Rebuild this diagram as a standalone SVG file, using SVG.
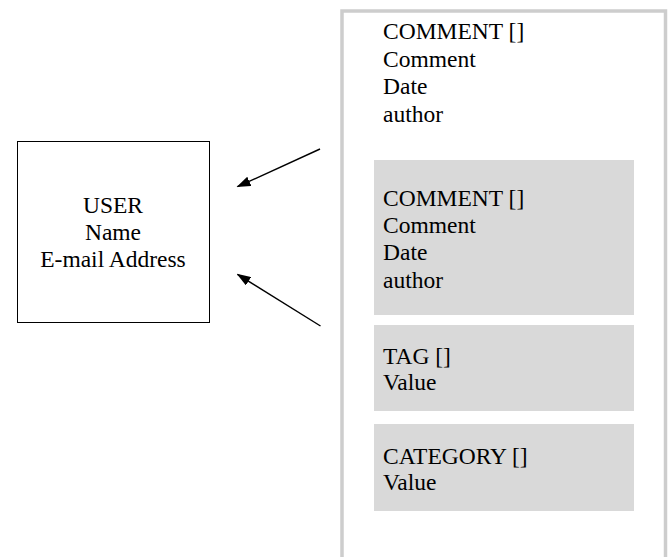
<svg xmlns="http://www.w3.org/2000/svg" width="672" height="557" viewBox="0 0 672 557">
<style>
.t{font-family:"Liberation Serif","Times New Roman",serif;font-size:23.5px;fill:#000}
.panel{fill:#d9d9d9}
.conn{stroke:#000;stroke-width:1.4;fill:none}
</style>
<defs>
<marker id="ah" markerWidth="14" markerHeight="10" refX="13" refY="5" orient="auto" markerUnits="userSpaceOnUse">
<path d="M0,0 L14,5 L0,10 Z" fill="#000"/>
</marker>
</defs>
<rect width="672" height="557" fill="#fff"/>
<g id="user">
<rect x="17.5" y="141.5" width="192" height="181" fill="#fff" stroke="#000" stroke-width="1"/>
<text class="t" text-anchor="middle" x="113" y="213">USER</text>
<text class="t" text-anchor="middle" x="113" y="240">Name</text>
<text class="t" text-anchor="middle" x="113" y="267">E-mail Address</text>
</g>
<g id="container">
<path d="M342,570 V11 H665.5 V570" fill="none" stroke="#cdcdcd" stroke-width="3.5"/>
</g>
<g id="comment1">
<text class="t" x="383" y="39">COMMENT []</text>
<text class="t" x="383" y="67">Comment</text>
<text class="t" x="383" y="94">Date</text>
<text class="t" x="383" y="122">author</text>
</g>
<g id="comment2">
<rect class="panel" x="374" y="160" width="260" height="155"/>
<text class="t" x="383" y="206">COMMENT []</text>
<text class="t" x="383" y="233">Comment</text>
<text class="t" x="383" y="260">Date</text>
<text class="t" x="383" y="288">author</text>
</g>
<g id="tag">
<rect class="panel" x="374" y="325" width="260" height="86"/>
<text class="t" x="383" y="364">TAG []</text>
<text class="t" x="383" y="390">Value</text>
</g>
<g id="category">
<rect class="panel" x="374" y="424" width="260" height="87"/>
<text class="t" x="383" y="464">CATEGORY []</text>
<text class="t" x="383" y="490">Value</text>
</g>
<g id="connectors">
<line class="conn" x1="320" y1="149" x2="237.5" y2="186.7" marker-end="url(#ah)"/>
<line class="conn" x1="320.5" y1="326" x2="237.5" y2="274.3" marker-end="url(#ah)"/>
</g>
</svg>
